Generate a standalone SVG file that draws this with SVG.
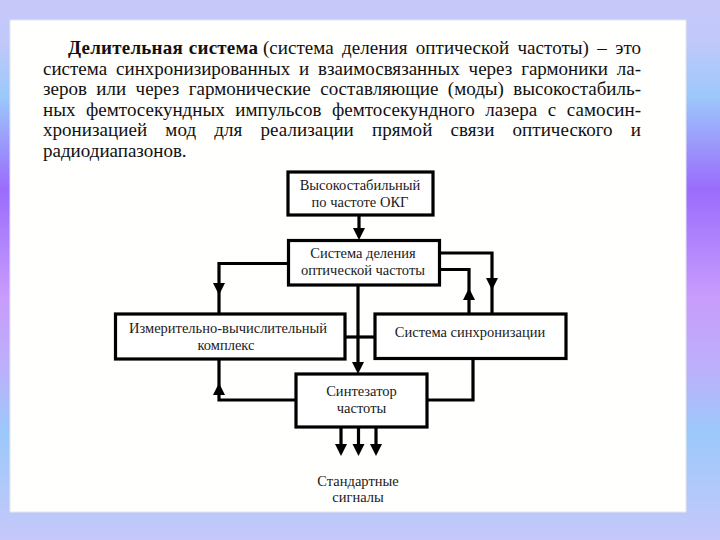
<svg xmlns="http://www.w3.org/2000/svg" xmlns:xlink="http://www.w3.org/1999/xlink" width="720" height="540" viewBox="0 0 720 540">
<style>
.p{font-family:"Liberation Serif","Times New Roman",serif;font-size:19px;fill:#111}
.b{font-weight:bold}
.t{font-family:"Liberation Serif","Times New Roman",serif;font-size:14.5px;fill:#1a1a1a;text-anchor:middle}
.box{fill:#fff;stroke:#000;stroke-width:3.2}
.ln{fill:none;stroke:#000;stroke-width:3.2}
</style>
<defs>
<linearGradient id="bg" x1="0" y1="0" x2="0" y2="1">
<stop offset="0" stop-color="#c8c8fa"/>
<stop offset="0.08" stop-color="#c0c8fa"/>
<stop offset="0.18" stop-color="#9cc8fb"/>
<stop offset="0.35" stop-color="#9a6cfc"/>
<stop offset="0.55" stop-color="#c89cfc"/>
<stop offset="0.68" stop-color="#bdb0fa"/>
<stop offset="0.8" stop-color="#9cc8fb"/>
<stop offset="1" stop-color="#c6c8fa"/>
</linearGradient>
<path id="ad" d="M-6,-12 L6,-12 L0,0 Z" fill="#000"/>
<path id="au" d="M-6,12 L6,12 L0,0 Z" fill="#000"/>
</defs>
<rect x="0" y="0" width="720" height="540" fill="url(#bg)"/>
<rect x="10" y="20" width="676" height="492" fill="#fffffd" stroke="#e6e6ee" stroke-width="1"/>

<g id="paragraph">
<text class="p b" x="68" y="54" word-spacing="1" textLength="190" lengthAdjust="spacing">Делительная система</text>
<text class="p" x="263" y="54" word-spacing="3.6" textLength="378" lengthAdjust="spacing">(система деления оптической частоты) – это</text>
<text class="p" x="43" y="74.5" word-spacing="4.1" textLength="598" lengthAdjust="spacing">система синхронизированных и взаимосвязанных через гармоники ла-</text>
<text class="p" x="43" y="95" word-spacing="4.7" textLength="598" lengthAdjust="spacing">зеров или через гармонические составляющие (моды) высокостабиль-</text>
<text class="p" x="43" y="115.5" word-spacing="5.9" textLength="598" lengthAdjust="spacing">ных фемтосекундных импульсов фемтосекундного лазера с самосин-</text>
<text class="p" x="43" y="136" word-spacing="13.4" textLength="598" lengthAdjust="spacing">хронизацией мод для реализации прямой связи оптического и</text>
<text class="p" x="43" y="156.5">радиодиапазонов.</text>
</g>

<g id="connectors">
<path class="ln" d="M359,215 V234"/>
<use xlink:href="#ad" x="359" y="240"/>
<path class="ln" d="M288,263.5 H219 V313"/>
<use xlink:href="#ad" x="219" y="295"/>
<path class="ln" d="M439,253 H492 V313"/>
<use xlink:href="#ad" x="492" y="290"/>
<path class="ln" d="M469,313 V269.5 H439"/>
<use xlink:href="#au" x="469" y="288"/>
<path class="ln" d="M358,285 V368"/>
<use xlink:href="#ad" x="358" y="374"/>
<path class="ln" d="M345,337 H375"/>
<path class="ln" d="M296,400 H219 V359"/>
<use xlink:href="#au" x="219" y="383"/>
<path class="ln" d="M473,358 V400 H427"/>
<path class="ln" d="M341,427 V450"/>
<use xlink:href="#ad" x="341" y="456"/>
<path class="ln" d="M358.5,427 V450"/>
<use xlink:href="#ad" x="358.5" y="456"/>
<path class="ln" d="M376,427 V450"/>
<use xlink:href="#ad" x="376" y="456"/>
</g>

<g id="node-okg">
<rect class="box" x="288" y="172" width="145" height="43"/>
<text class="t" x="360" y="190">Высокостабильный</text>
<text class="t" x="360" y="207">по частоте ОКГ</text>
</g>
<g id="node-division">
<rect class="box" x="288.5" y="240.5" width="151" height="44.5"/>
<text class="t" x="363" y="258">Система деления</text>
<text class="t" x="363" y="275">оптической частоты</text>
</g>
<g id="node-measure">
<rect class="box" x="115.5" y="314" width="229.5" height="45"/>
<text class="t" x="228" y="333">Измерительно-вычислительный</text>
<text class="t" x="226" y="350">комплекс</text>
</g>
<g id="node-sync">
<rect class="box" x="375" y="314" width="191" height="44.5"/>
<text class="t" x="470" y="337">Система синхронизации</text>
</g>
<g id="node-synth">
<rect class="box" x="296" y="374" width="131" height="53"/>
<text class="t" x="361.5" y="396">Синтезатор</text>
<text class="t" x="361.5" y="413">частоты</text>
</g>
<g id="output-label">
<text class="t" x="358" y="486">Стандартные</text>
<text class="t" x="358" y="502">сигналы</text>
</g>
</svg>
